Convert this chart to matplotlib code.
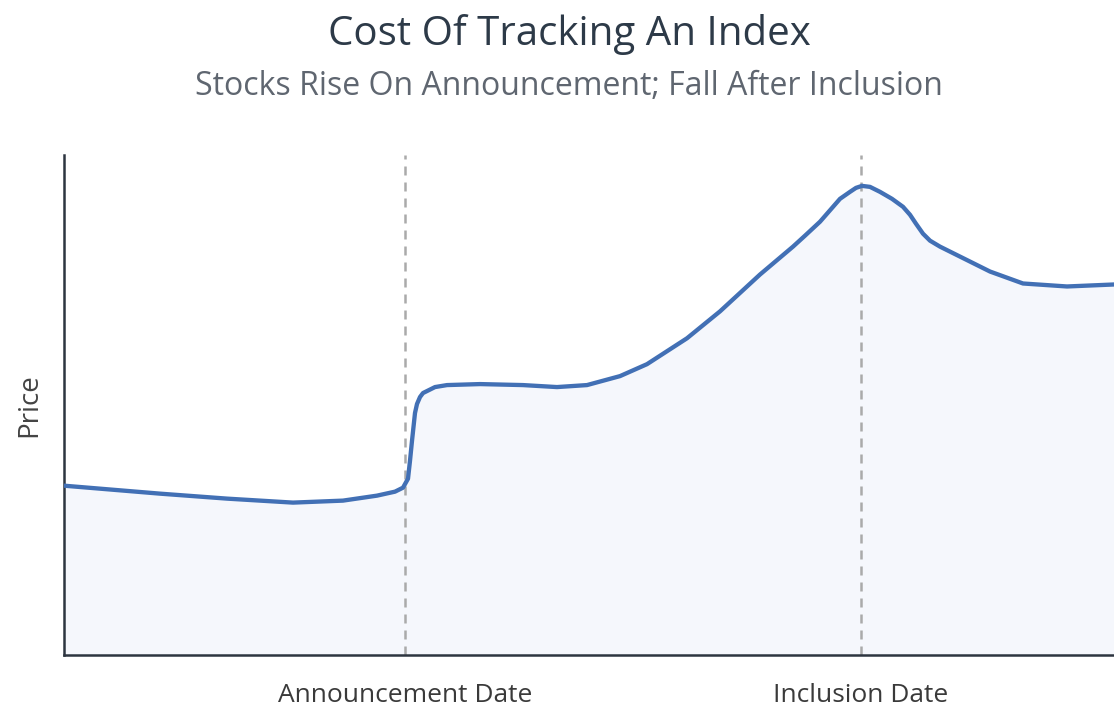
import numpy as np
import matplotlib.pyplot as plt

# Price path (x in days, y in index points)
days = [0.0, 9.6, 16.3, 22.9, 27.9, 31.3, 33.1, 33.9, 34.4, 34.6, 34.8, 35.1,
        35.3, 35.6, 35.9, 36.3, 37.1, 38.3, 41.6, 45.9, 49.3, 52.3, 55.6,
        58.3, 62.3, 65.6, 69.6, 72.9, 74.1, 75.6, 77.6, 78.6, 79.2, 79.8,
        80.6, 81.6, 82.8, 83.9, 84.6, 85.2, 85.9, 86.6, 87.6, 88.6, 92.6,
        95.9, 100.3, 105.0]
price = [34.0, 32.4, 31.4, 30.6, 31.0, 32.0, 32.8, 33.6, 35.4, 39.0, 43.0, 48.6,
         50.4, 51.8, 52.6, 53.0, 53.8, 54.2, 54.4, 54.2, 53.8, 54.2, 56.0,
         58.4, 63.6, 69.0, 76.4, 82.0, 84.2, 87.0, 91.6, 93.0, 93.8, 94.2,
         94.0, 93.0, 91.6, 90.0, 88.4, 86.6, 84.6, 83.2, 82.0, 81.0, 77.0,
         74.6, 74.0, 74.4]
event_days = [34.1, 79.7]
event_labels = ['Announcement Date', 'Inclusion Date']

plt.rcParams['font.family'] = ['Open Sans', 'DejaVu Sans']

fig = plt.figure(figsize=(11.14, 7.06), dpi=100)
ax = fig.add_axes([64/1114, 51/706, 1050/1114, 500/706])

line_col = '#4270b5'
ax.fill_between(days, price, 0, color='#f5f7fc', zorder=1)
for d in event_days:
    ax.axvline(d, color='#aaaaaa', lw=1.8, dashes=(3.6, 2.8), zorder=2)
ax.plot(days, price, color=line_col, lw=3.1, solid_joinstyle='round',
        solid_capstyle='round', zorder=3)

ax.set_xlim(0, 105)
ax.set_ylim(0, 100.4)
for s in ['top', 'right']:
    ax.spines[s].set_visible(False)
for s in ['left', 'bottom']:
    ax.spines[s].set_color('#2d3540')
    ax.spines[s].set_linewidth(1.8)

ax.set_xticks(event_days)
ax.set_xticklabels(event_labels, fontsize=19, color='#3a3a3a')
ax.tick_params(axis='x', length=0, pad=20)
ax.set_yticks([])
ax.set_ylabel('Price', fontsize=20, color='#444444', labelpad=15)

fig.text(0.511, 1 - 45/706, 'Cost Of Tracking An Index', ha='center', va='baseline',
         fontsize=29, color='#2d3a48')
fig.text(0.511, 1 - 95/706, 'Stocks Rise On Announcement; Fall After Inclusion',
         ha='center', va='baseline', fontsize=23, color='#5f6670')

fig.savefig('out.png', dpi=100)
